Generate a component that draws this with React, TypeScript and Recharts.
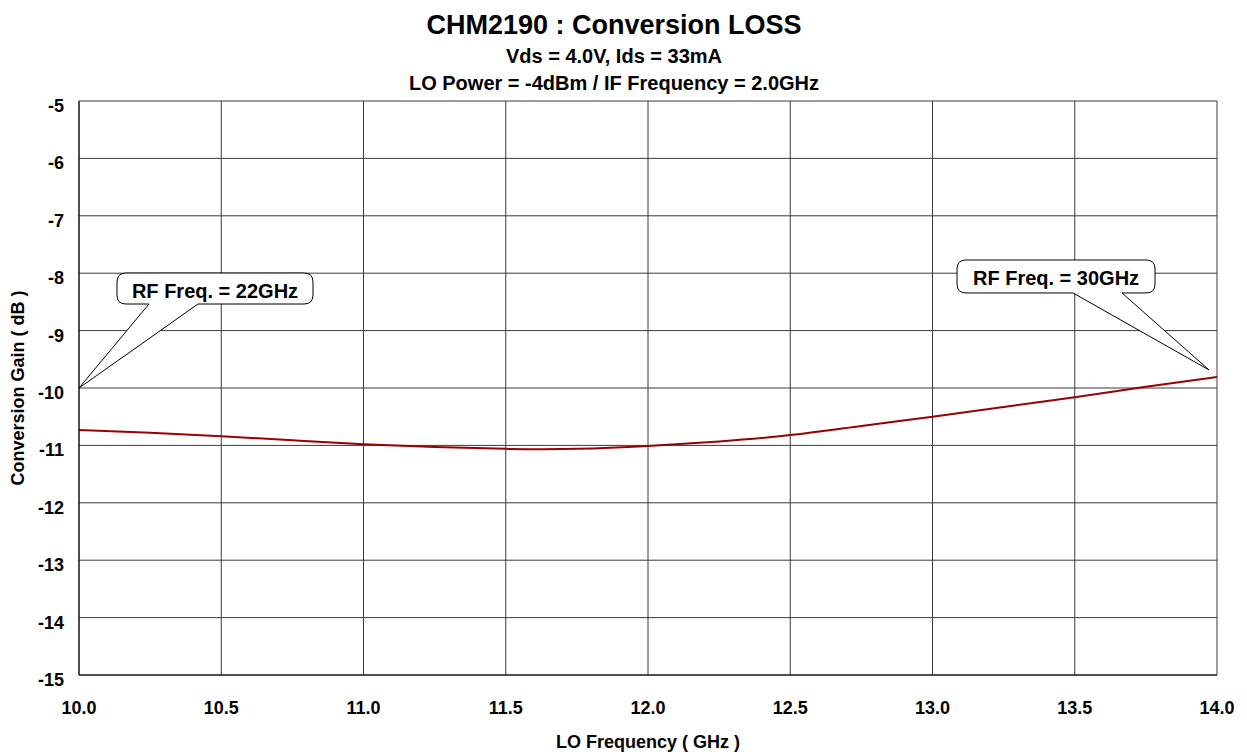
import { LineChart, Line, XAxis, YAxis, CartesianGrid, ReferenceDot } from 'recharts'

const loFreq = [10.0, 10.25, 10.5, 10.75, 11.0, 11.25, 11.5, 11.75, 12.0, 12.25, 12.5, 12.75, 13.0, 13.25, 13.5, 13.75, 14.0]
const convGain = [-10.73, -10.78, -10.84, -10.91, -10.98, -11.03, -11.06, -11.06, -11.01, -10.93, -10.82, -10.66, -10.5, -10.33, -10.16, -9.98, -9.81]
const xTicks = [10.0, 10.5, 11.0, 11.5, 12.0, 12.5, 13.0, 13.5, 14.0]
const yTicks = [-5, -6, -7, -8, -9, -10, -11, -12, -13, -14, -15]

const title = 'CHM2190 : Conversion LOSS'
const subtitle1 = 'Vds = 4.0V, Ids = 33mA'
const subtitle2 = 'LO Power = -4dBm / IF Frequency = 2.0GHz'

const callouts = [
  { label: 'RF Freq. = 22GHz', x: 10.0, y: -10.0, box: [38, -115, 234, -84], tail: [70, 119] },
  { label: 'RF Freq. = 30GHz', x: 13.972, y: -9.686, box: [-252, -110, -54, -77], tail: [-136, -87] },
]

const FONT = '"Liberation Sans", Arial, sans-serif'

const data = loFreq.map((f, i) => ({ freq: f, gain: convGain[i] }))

function XTick(props: any) {
  const { x, y, payload } = props
  return (
    <text x={x} y={y + 37} textAnchor="middle" fontFamily={FONT} fontWeight="bold" fontSize={18} fill="#000">
      {Number(payload.value).toFixed(1)}
    </text>
  )
}

function YTick(props: any) {
  const { x, y, payload } = props
  return (
    <text x={x - 13} y={y + 11} textAnchor="end" fontFamily={FONT} fontWeight="bold" fontSize={18} fill="#000">
      {payload.value}
    </text>
  )
}

// rounded box with a wedge pointing at (cx, cy)
function calloutShape(c: (typeof callouts)[number]) {
  return (props: any) => {
    const { cx, cy } = props
    const [x0, y0, x1, y1] = c.box.map((v, i) => (i % 2 === 0 ? cx + v : cy + v))
    const [t0, t1] = c.tail.map((v) => cx + v)
    const r = 9
    const d = [
      `M${x0 + r},${y0}`,
      `L${x1 - r},${y0}`,
      `Q${x1},${y0} ${x1},${y0 + r}`,
      `L${x1},${y1 - r}`,
      `Q${x1},${y1} ${x1 - r},${y1}`,
      `L${Math.max(t0, t1)},${y1}`,
      `L${cx},${cy}`,
      `L${Math.min(t0, t1)},${y1}`,
      `L${x0 + r},${y1}`,
      `Q${x0},${y1} ${x0},${y1 - r}`,
      `L${x0},${y0 + r}`,
      `Q${x0},${y0} ${x0 + r},${y0}`,
      'Z',
    ].join(' ')
    return (
      <g>
        <path d={d} fill="#fff" stroke="#000" strokeWidth={1} />
        <text
          x={(x0 + x1) / 2}
          y={(y0 + y1) / 2 + 9}
          textAnchor="middle"
          fontFamily={FONT}
          fontWeight="bold"
          fontSize={20}
          fill="#000"
        >
          {c.label}
        </text>
      </g>
    )
  }
}

export default function App() {
  return (
    <div style={{ position: 'absolute', left: 0, top: 0, width: 1247, height: 752, background: '#fff' }}>
      <LineChart
        width={1247}
        height={752}
        data={data}
        margin={{ top: 101, right: 30, left: 0, bottom: 0 }}
        style={{ position: 'absolute', left: 0, top: 0 }}
      >
        <CartesianGrid stroke="#3a3a3a" strokeWidth={1} />
        <XAxis
          dataKey="freq"
          type="number"
          domain={[10, 14]}
          ticks={xTicks}
          tickLine={false}
          tickSize={0}
          height={77}
          stroke="#000"
          tick={<XTick />}
          label={{ value: 'LO Frequency ( GHz )', position: 'insideBottom', offset: 4, fill: '#000', fontSize: 18, fontWeight: 'bold', fontFamily: FONT }}
        />
        <YAxis
          type="number"
          domain={[-15, -5]}
          ticks={yTicks}
          tickLine={false}
          tickSize={0}
          width={79}
          stroke="#000"
          tick={<YTick />}
          label={{ value: 'Conversion Gain ( dB )', angle: -90, position: 'insideLeft', offset: 18, fill: '#000', fontSize: 18, fontWeight: 'bold', fontFamily: FONT, style: { textAnchor: 'middle' } }}
        />
        <Line
          type="natural"
          dataKey="gain"
          stroke="#990000"
          strokeWidth={2}
          dot={false}
          isAnimationActive={false}
        />
        {callouts.map((c) => (
          <ReferenceDot key={c.label} x={c.x} y={c.y} ifOverflow="visible" shape={calloutShape(c)} />
        ))}
      </LineChart>
      <svg width={1247} height={100} style={{ position: 'absolute', left: 0, top: 0, pointerEvents: 'none' }}>
        <text x={614} y={34} textAnchor="middle" fontFamily={FONT} fontWeight="bold" fontSize={27} fill="#000">{title}</text>
        <text x={614} y={63} textAnchor="middle" fontFamily={FONT} fontWeight="bold" fontSize={20} fill="#000">{subtitle1}</text>
        <text x={614} y={90} textAnchor="middle" fontFamily={FONT} fontWeight="bold" fontSize={20} fill="#000">{subtitle2}</text>
      </svg>
    </div>
  )
}
